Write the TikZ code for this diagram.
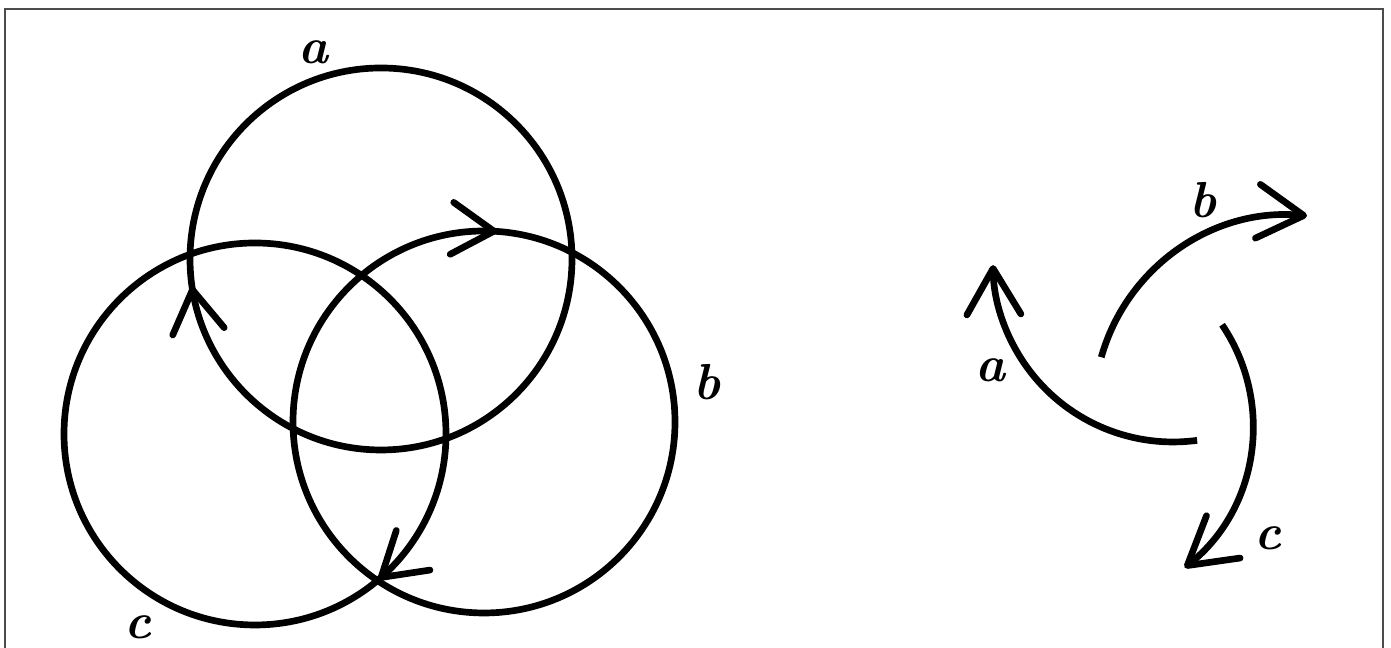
\documentclass[tikz,border=0pt]{standalone}
\usepackage{tikz}
\usetikzlibrary{arrows.meta,decorations.markings}

\begin{document}
\begin{tikzpicture}[
   ring/.style={line width=1.9pt},
   onring/.style={postaction={decorate}, decoration={markings,
       mark=at position #1 with {\arrowreversed{Straight Barb[length=4.2mm, width=5.2mm, round]}}}},
   arr/.style={line width=1.9pt, -{Straight Barb[length=4.6mm, width=5.4mm, round]}},
   lbl/.style={font=\Large\bfseries\itshape, inner sep=0pt},
   frame/.style={draw=black!70, line width=0.6pt}
]
\useasboundingbox (0,0) rectangle (13.91,6.48);
\draw[frame] (0.05,0) -- (0.05,6.39) -- (13.83,6.39) -- (13.83,0);

% Three rings
\coordinate (ca) at (3.81,3.89);
\coordinate (cb) at (4.84,2.26);
\coordinate (cc) at (2.55,2.14);
\draw[ring, onring=0.523] (ca) circle[radius=1.91cm];
\draw[ring, onring=0.239] (cb) circle[radius=1.91cm];
\draw[ring, onring=0.862] (cc) circle[radius=1.91cm];
\node[lbl] (la) at (3.13,5.96) {a};
\node[lbl] (lb) at (7.07,2.66) {b};
\node[lbl] (lc) at (1.38,0.21) {c};

% Three arcs
\coordinate (oa) at (11.73,3.86);
\coordinate (ob) at (12.89,2.38);
\coordinate (oc) at (10.72,2.22);
\draw[arr] (oa) ++(-82.3:1.8) arc[start angle=-82.3, end angle=-179, radius=1.8];
\draw[arr] (ob) ++(164.3:1.95) arc[start angle=164.3, end angle=84.7, radius=1.95];
\draw[arr] (oc) ++(34:1.81) arc[start angle=34, end angle=-51.5, radius=1.81];
\node[lbl] (ra) at (9.90,2.78) {a};
\node[lbl] (rb) at (12.03,4.48) {b};
\node[lbl] (rc) at (12.68,1.10) {c};
\end{tikzpicture}
\end{document}
